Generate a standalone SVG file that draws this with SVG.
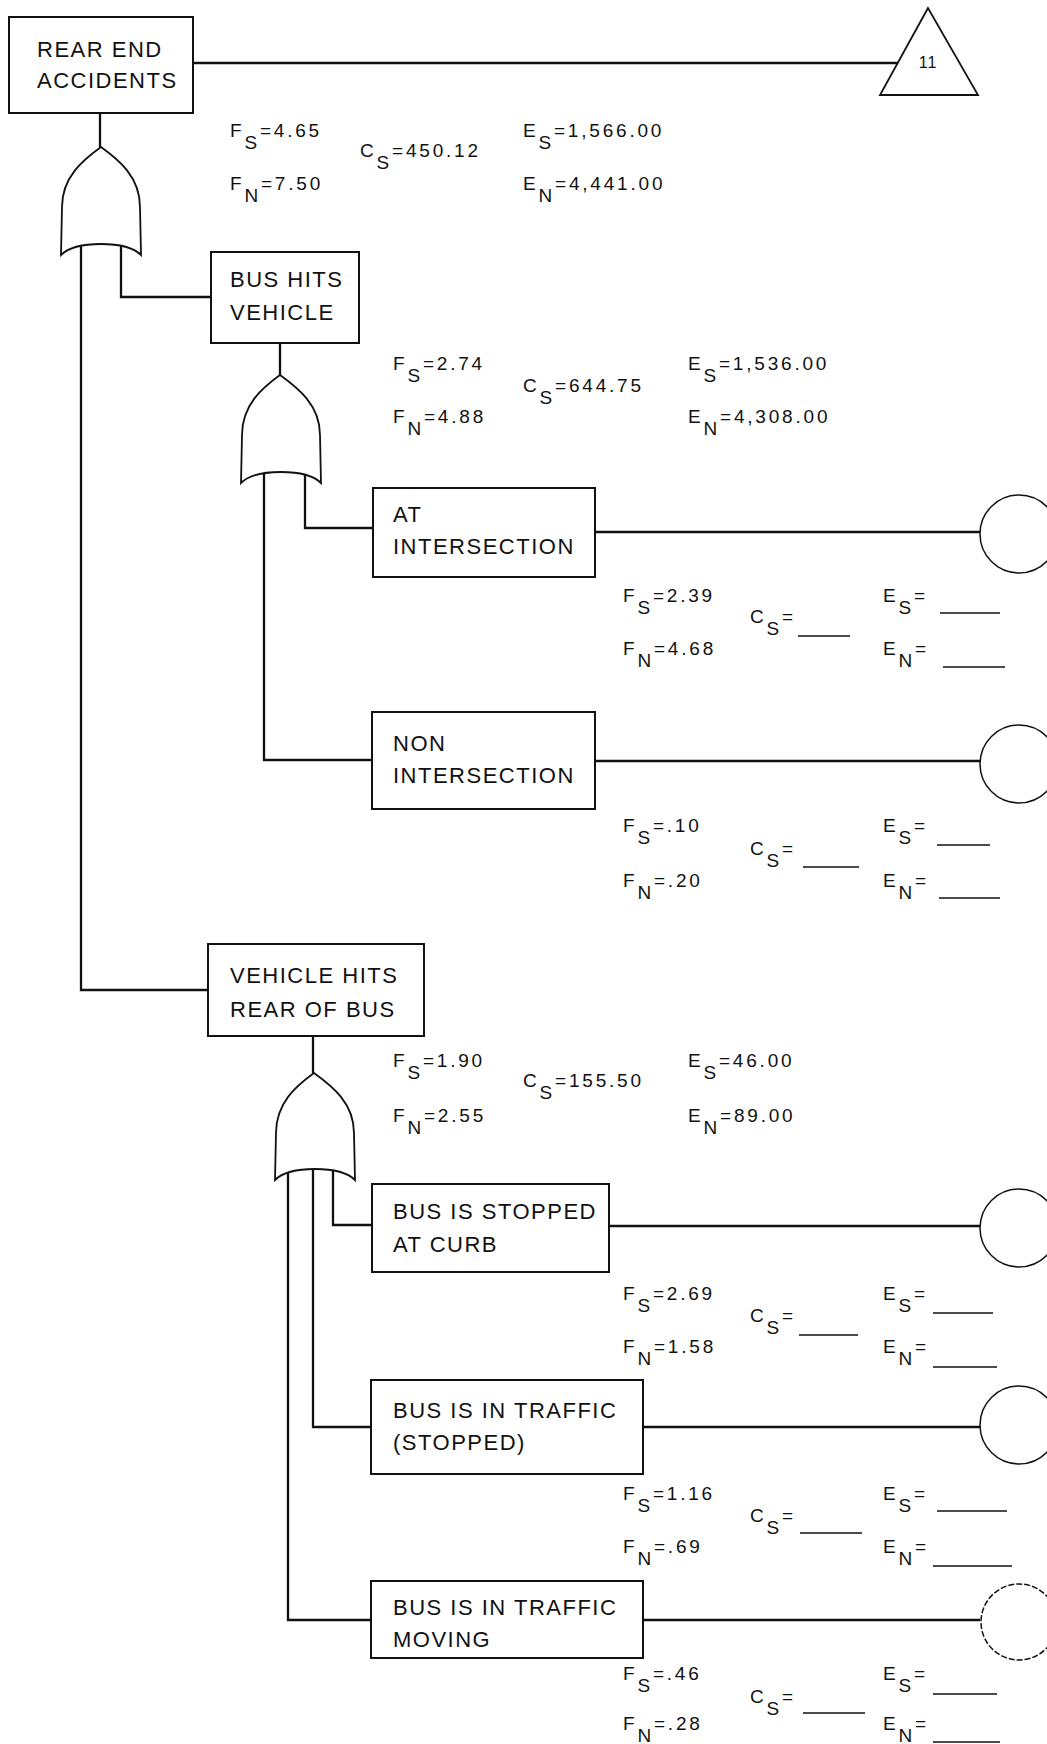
<svg xmlns="http://www.w3.org/2000/svg" width="1047" height="1744" viewBox="0 0 1047 1744">
<style>
.box{fill:#fff;stroke:#111;stroke-width:2}
.gate{fill:#fff;stroke:#111;stroke-width:1.8}
.circ{fill:none;stroke:#111;stroke-width:1.5}
.conn{fill:none;stroke:#111;stroke-width:2.3}
.lbl{font-family:"Liberation Sans",Arial,sans-serif;font-size:22px;letter-spacing:1.5px;fill:#111}
.num{font-family:"Liberation Sans",Arial,sans-serif;font-size:19px;letter-spacing:2.8px;fill:#111}
.sub{font-size:19px}
.blank{stroke:#111;stroke-width:1.5}
</style>
<rect width="1047" height="1744" fill="#fff"/>

<g id="connectors">
<line class="conn" x1="193" y1="63" x2="898" y2="63"/>
<line class="conn" x1="100" y1="113" x2="100" y2="147"/>
<polyline class="conn" points="121,240 121,297 211,297"/>
<polyline class="conn" points="81,240 81,990 208,990"/>
<line class="conn" x1="280" y1="343" x2="280" y2="375"/>
<polyline class="conn" points="305,470 305,528 373,528"/>
<polyline class="conn" points="264,470 264,760 372,760"/>
<line class="conn" x1="595" y1="532" x2="980" y2="532"/>
<line class="conn" x1="595" y1="761" x2="980" y2="761"/>
<line class="conn" x1="313" y1="1036" x2="313" y2="1073"/>
<polyline class="conn" points="333,1165 333,1225 372,1225"/>
<polyline class="conn" points="313,1165 313,1427 371,1427"/>
<polyline class="conn" points="288,1165 288,1620 371,1620"/>
<line class="conn" x1="609" y1="1226" x2="980" y2="1226"/>
<line class="conn" x1="643" y1="1427" x2="980" y2="1427"/>
<line class="conn" x1="643" y1="1620" x2="980" y2="1620"/>
</g>

<g id="n-rear-end">
<rect class="box" x="9" y="17" width="184" height="96"/>
<text class="lbl" x="37" y="57">REAR END</text>
<text class="lbl" x="37" y="88">ACCIDENTS</text>
</g>
<g id="n-transfer-11">
<polygon class="gate" points="928,8 880,95 978,95"/>
<text class="num" x="928" y="68" style="font-size:16px;letter-spacing:1px" text-anchor="middle">11</text>
</g>
<g id="g-or-1">
<path class="gate" d="M101,147 C83,160 62,177 62,207 L61,255 C70,246 85,244 101,244 C117,244 132,246 141,255 L140,207 C140,177 119,160 101,147 Z"/>
</g>
<g id="s-rear-end">
<text class="num" x="230" y="137">F<tspan class="sub" dy="12">S</tspan><tspan dy="-12">=4.65</tspan></text>
<text class="num" x="230" y="190">F<tspan class="sub" dy="12">N</tspan><tspan dy="-12">=7.50</tspan></text>
<text class="num" x="360" y="157">C<tspan class="sub" dy="12">S</tspan><tspan dy="-12">=450.12</tspan></text>
<text class="num" x="523" y="137">E<tspan class="sub" dy="12">S</tspan><tspan dy="-12">=1,566.00</tspan></text>
<text class="num" x="523" y="190">E<tspan class="sub" dy="12">N</tspan><tspan dy="-12">=4,441.00</tspan></text>
</g>

<g id="n-bus-hits">
<rect class="box" x="211" y="252" width="148" height="91"/>
<text class="lbl" x="230" y="287">BUS HITS</text>
<text class="lbl" x="230" y="320">VEHICLE</text>
</g>
<g id="g-or-2">
<path class="gate" d="M280,375 C262,388 242,405 242,435 L241,483 C250,474 265,472 281,472 C297,472 312,474 321,483 L320,435 C320,405 298,388 280,375 Z"/>
</g>
<g id="s-bus-hits">
<text class="num" x="393" y="370">F<tspan class="sub" dy="12">S</tspan><tspan dy="-12">=2.74</tspan></text>
<text class="num" x="393" y="423">F<tspan class="sub" dy="12">N</tspan><tspan dy="-12">=4.88</tspan></text>
<text class="num" x="523" y="392">C<tspan class="sub" dy="12">S</tspan><tspan dy="-12">=644.75</tspan></text>
<text class="num" x="688" y="370">E<tspan class="sub" dy="12">S</tspan><tspan dy="-12">=1,536.00</tspan></text>
<text class="num" x="688" y="423">E<tspan class="sub" dy="12">N</tspan><tspan dy="-12">=4,308.00</tspan></text>
</g>

<g id="n-at-intersection">
<rect class="box" x="373" y="488" width="222" height="89"/>
<text class="lbl" x="393" y="522">AT</text>
<text class="lbl" x="393" y="554">INTERSECTION</text>
<circle class="circ" cx="1019" cy="534" r="39"/>
</g>
<g id="s-at-intersection">
<text class="num" x="623" y="602">F<tspan class="sub" dy="12">S</tspan><tspan dy="-12">=2.39</tspan></text>
<text class="num" x="623" y="655">F<tspan class="sub" dy="12">N</tspan><tspan dy="-12">=4.68</tspan></text>
<text class="num" x="750" y="623">C<tspan class="sub" dy="12">S</tspan><tspan dy="-12">=</tspan></text>
<line class="blank" x1="798" y1="636" x2="850" y2="636"/>
<text class="num" x="883" y="602">E<tspan class="sub" dy="12">S</tspan><tspan dy="-12">=</tspan></text>
<line class="blank" x1="940" y1="613" x2="1000" y2="613"/>
<text class="num" x="883" y="655">E<tspan class="sub" dy="12">N</tspan><tspan dy="-12">=</tspan></text>
<line class="blank" x1="943" y1="667" x2="1005" y2="667"/>
</g>

<g id="n-non-intersection">
<rect class="box" x="372" y="712" width="223" height="97"/>
<text class="lbl" x="393" y="751">NON</text>
<text class="lbl" x="393" y="783">INTERSECTION</text>
<circle class="circ" cx="1019" cy="764" r="39"/>
</g>
<g id="s-non-intersection">
<text class="num" x="623" y="832">F<tspan class="sub" dy="12">S</tspan><tspan dy="-12">=.10</tspan></text>
<text class="num" x="623" y="887">F<tspan class="sub" dy="12">N</tspan><tspan dy="-12">=.20</tspan></text>
<text class="num" x="750" y="855">C<tspan class="sub" dy="12">S</tspan><tspan dy="-12">=</tspan></text>
<line class="blank" x1="803" y1="867" x2="859" y2="867"/>
<text class="num" x="883" y="832">E<tspan class="sub" dy="12">S</tspan><tspan dy="-12">=</tspan></text>
<line class="blank" x1="937" y1="845" x2="990" y2="845"/>
<text class="num" x="883" y="887">E<tspan class="sub" dy="12">N</tspan><tspan dy="-12">=</tspan></text>
<line class="blank" x1="939" y1="898" x2="1000" y2="898"/>
</g>

<g id="n-vehicle-hits">
<rect class="box" x="208" y="944" width="216" height="92"/>
<text class="lbl" x="230" y="983">VEHICLE HITS</text>
<text class="lbl" x="230" y="1017">REAR OF BUS</text>
</g>
<g id="g-or-3">
<path class="gate" d="M314,1073 C296,1086 276,1103 276,1133 L275,1180 C284,1171 299,1169 315,1169 C331,1169 346,1171 355,1180 L354,1133 C354,1103 332,1086 314,1073 Z"/>
</g>
<g id="s-vehicle-hits">
<text class="num" x="393" y="1067">F<tspan class="sub" dy="12">S</tspan><tspan dy="-12">=1.90</tspan></text>
<text class="num" x="393" y="1122">F<tspan class="sub" dy="12">N</tspan><tspan dy="-12">=2.55</tspan></text>
<text class="num" x="523" y="1087">C<tspan class="sub" dy="12">S</tspan><tspan dy="-12">=155.50</tspan></text>
<text class="num" x="688" y="1067">E<tspan class="sub" dy="12">S</tspan><tspan dy="-12">=46.00</tspan></text>
<text class="num" x="688" y="1122">E<tspan class="sub" dy="12">N</tspan><tspan dy="-12">=89.00</tspan></text>
</g>

<g id="n-stopped-curb">
<rect class="box" x="372" y="1184" width="237" height="88"/>
<text class="lbl" x="393" y="1219">BUS IS STOPPED</text>
<text class="lbl" x="393" y="1252">AT CURB</text>
<circle class="circ" cx="1019" cy="1228" r="39"/>
</g>
<g id="s-stopped-curb">
<text class="num" x="623" y="1300">F<tspan class="sub" dy="12">S</tspan><tspan dy="-12">=2.69</tspan></text>
<text class="num" x="623" y="1353">F<tspan class="sub" dy="12">N</tspan><tspan dy="-12">=1.58</tspan></text>
<text class="num" x="750" y="1322">C<tspan class="sub" dy="12">S</tspan><tspan dy="-12">=</tspan></text>
<line class="blank" x1="799" y1="1335" x2="858" y2="1335"/>
<text class="num" x="883" y="1300">E<tspan class="sub" dy="12">S</tspan><tspan dy="-12">=</tspan></text>
<line class="blank" x1="933" y1="1313" x2="993" y2="1313"/>
<text class="num" x="883" y="1353">E<tspan class="sub" dy="12">N</tspan><tspan dy="-12">=</tspan></text>
<line class="blank" x1="933" y1="1367" x2="997" y2="1367"/>
</g>

<g id="n-traffic-stopped">
<rect class="box" x="371" y="1380" width="272" height="94"/>
<text class="lbl" x="393" y="1418">BUS IS IN TRAFFIC</text>
<text class="lbl" x="393" y="1450">(STOPPED)</text>
<circle class="circ" cx="1019" cy="1425" r="39"/>
</g>
<g id="s-traffic-stopped">
<text class="num" x="623" y="1500">F<tspan class="sub" dy="12">S</tspan><tspan dy="-12">=1.16</tspan></text>
<text class="num" x="623" y="1553">F<tspan class="sub" dy="12">N</tspan><tspan dy="-12">=.69</tspan></text>
<text class="num" x="750" y="1522">C<tspan class="sub" dy="12">S</tspan><tspan dy="-12">=</tspan></text>
<line class="blank" x1="800" y1="1533" x2="862" y2="1533"/>
<text class="num" x="883" y="1500">E<tspan class="sub" dy="12">S</tspan><tspan dy="-12">=</tspan></text>
<line class="blank" x1="937" y1="1511" x2="1007" y2="1511"/>
<text class="num" x="883" y="1553">E<tspan class="sub" dy="12">N</tspan><tspan dy="-12">=</tspan></text>
<line class="blank" x1="933" y1="1566" x2="1012" y2="1566"/>
</g>

<g id="n-traffic-moving">
<rect class="box" x="371" y="1581" width="272" height="77"/>
<text class="lbl" x="393" y="1615">BUS IS IN TRAFFIC</text>
<text class="lbl" x="393" y="1647">MOVING</text>
<circle class="circ" cx="1019" cy="1622" r="38" stroke-dasharray="6,2"/>
</g>
<g id="s-traffic-moving">
<text class="num" x="623" y="1680">F<tspan class="sub" dy="12">S</tspan><tspan dy="-12">=.46</tspan></text>
<text class="num" x="623" y="1730">F<tspan class="sub" dy="12">N</tspan><tspan dy="-12">=.28</tspan></text>
<text class="num" x="750" y="1703">C<tspan class="sub" dy="12">S</tspan><tspan dy="-12">=</tspan></text>
<line class="blank" x1="803" y1="1713" x2="865" y2="1713"/>
<text class="num" x="883" y="1680">E<tspan class="sub" dy="12">S</tspan><tspan dy="-12">=</tspan></text>
<line class="blank" x1="933" y1="1694" x2="997" y2="1694"/>
<text class="num" x="883" y="1730">E<tspan class="sub" dy="12">N</tspan><tspan dy="-12">=</tspan></text>
<line class="blank" x1="933" y1="1742" x2="1000" y2="1742"/>
</g>
</svg>
